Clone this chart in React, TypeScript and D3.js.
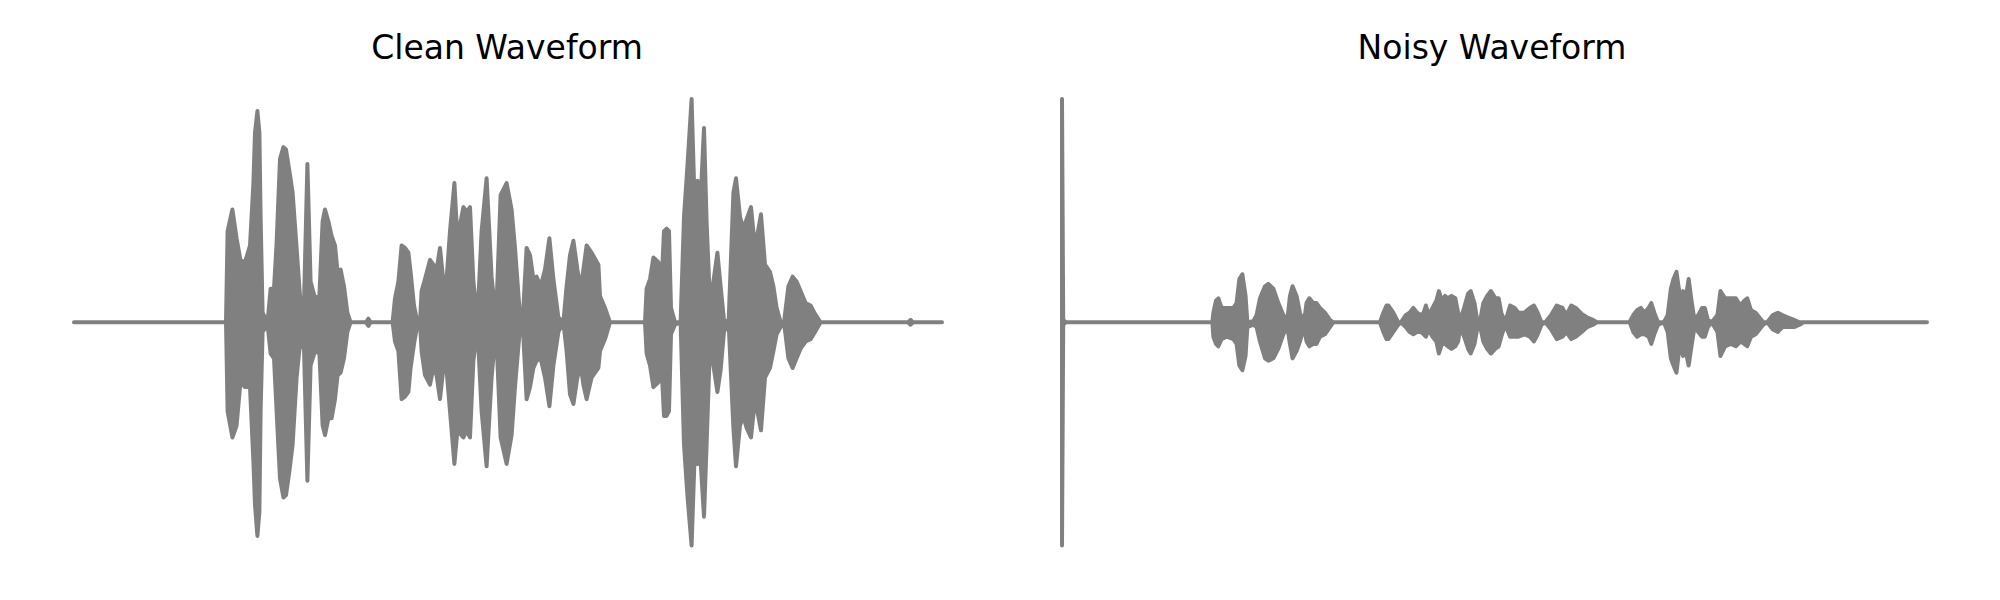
import * as d3 from "d3";

// Waveform envelopes (time in s, amplitude normalised)
const TITLES = ["Clean Waveform", "Noisy Waveform"];

const CLEAN_DURATION = 4.34;
const cleanTime = [
  0, 0.76, 0.768, 0.792, 0.813, 0.832, 0.855, 0.88, 0.897, 0.905, 0.917, 0.927, 0.933, 0.943,
  0.968, 0.983, 1.0, 1.013, 1.03, 1.047, 1.06, 1.077, 1.093, 1.113, 1.13, 1.15, 1.167, 1.183,
  1.205, 1.227, 1.243, 1.255, 1.272, 1.288, 1.305, 1.318, 1.333, 1.35, 1.367, 1.383, 1.46,
  1.472, 1.483, 1.593, 1.605, 1.622, 1.638, 1.655, 1.672, 1.683, 1.7, 1.717, 1.73, 1.738,
  1.755, 1.78, 1.797, 1.813, 1.83, 1.847, 1.863, 1.88, 1.902, 1.917, 1.947, 1.963, 1.98,
  1.997, 2.017, 2.038, 2.063, 2.088, 2.11, 2.133, 2.163, 2.188, 2.205, 2.227, 2.243, 2.263,
  2.28, 2.297, 2.313, 2.333, 2.355, 2.377, 2.397, 2.422, 2.447, 2.463, 2.48, 2.497, 2.517,
  2.533, 2.547, 2.563, 2.588, 2.622, 2.63, 2.655, 2.68, 2.855, 2.863, 2.88, 2.897, 2.922,
  2.938, 2.95, 2.963, 2.975, 2.985, 3.005, 3.033, 3.05, 3.067, 3.088, 3.105, 3.118, 3.133,
  3.15, 3.163, 3.18, 3.197, 3.217, 3.233, 3.25, 3.273, 3.297, 3.31, 3.33, 3.347, 3.363,
  3.385, 3.405, 3.435, 3.455, 3.48, 3.497, 3.513, 3.533, 3.55, 3.572, 3.593, 3.613, 3.633,
  3.658, 3.683, 3.705, 3.733, 4.17, 4.183, 4.195, 4.34,
];
const cleanUpper = [
  0, 0, 0.38, 0.47, 0.35, 0.26, 0.25, 0.32, 0.58, 0.79, 0.88, 0.79, 0.44, 0.04,
  0, 0.14, 0.14, 0.33, 0.68, 0.73, 0.72, 0.63, 0.54, 0.31, 0.11, 0.08, 0.66, 0.17,
  0.1, 0.11, 0.42, 0.47, 0.42, 0.36, 0.32, 0.21, 0.22, 0.15, 0.04, 0, 0,
  0.015, 0, 0, 0.1, 0.17, 0.32, 0.31, 0.29, 0.21, 0.07, 0, 0, 0.13,
  0.18, 0.26, 0.24, 0.22, 0.31, 0.17, 0.18, 0.38, 0.58, 0.35, 0.48, 0.46, 0.48,
  0.17, 0.01, 0.38, 0.6, 0.19, 0.01, 0.53, 0.58, 0.47, 0.31, 0.06, 0, 0.31,
  0.28, 0.18, 0.19, 0.15, 0.22, 0.35, 0.18, 0.02, 0, 0.15, 0.28, 0.34, 0.22,
  0.14, 0.22, 0.32, 0.29, 0.24, 0.11, 0.06, 0, 0, 0.14, 0.18, 0.27, 0.25,
  0.17, 0.38, 0.39, 0.38, 0.06, 0, 0, 0.44, 0.65, 0.93, 0.44, 0.59, 0.51,
  0.81, 0.42, 0.08, 0.17, 0.29, 0.15, 0.01, 0, 0.54, 0.6, 0.44, 0.39, 0.43,
  0.48, 0.31, 0.45, 0.24, 0.21, 0.15, 0.06, 0, 0, 0.15, 0.19, 0.17, 0.13,
  0.08, 0.07, 0.035, 0, 0, 0.01, 0, 0,
];
const cleanLower = [
  0, 0, -0.37, -0.48, -0.43, -0.25, -0.27, -0.27, -0.58, -0.76, -0.89, -0.79, -0.37, -0.04,
  -0.01, -0.13, -0.15, -0.37, -0.65, -0.73, -0.72, -0.62, -0.51, -0.23, -0.09, -0.11, -0.66, -0.18,
  -0.12, -0.13, -0.43, -0.47, -0.4, -0.4, -0.32, -0.22, -0.21, -0.15, -0.04, 0, 0,
  -0.015, 0, 0, -0.08, -0.12, -0.32, -0.31, -0.29, -0.19, -0.09, -0.01, 0, -0.12,
  -0.22, -0.26, -0.19, -0.22, -0.32, -0.19, -0.2, -0.37, -0.59, -0.45, -0.48, -0.45, -0.48,
  -0.16, -0.02, -0.37, -0.6, -0.23, -0.02, -0.48, -0.59, -0.47, -0.27, -0.05, 0, -0.32,
  -0.27, -0.19, -0.16, -0.15, -0.23, -0.35, -0.18, -0.04, 0, -0.12, -0.3, -0.34, -0.23,
  -0.18, -0.26, -0.32, -0.23, -0.19, -0.12, -0.07, 0, 0, -0.13, -0.18, -0.27, -0.25,
  -0.19, -0.39, -0.39, -0.37, -0.05, -0.01, 0, -0.51, -0.72, -0.93, -0.51, -0.59, -0.58,
  -0.81, -0.51, -0.09, -0.18, -0.29, -0.2, -0.04, 0, -0.44, -0.6, -0.43, -0.39, -0.44,
  -0.48, -0.32, -0.45, -0.23, -0.19, -0.12, -0.05, -0.02, 0, -0.15, -0.19, -0.15, -0.11,
  -0.08, -0.07, -0.04, 0, 0, -0.01, 0, 0,
];

const NOISY_DURATION = 4.326;
const noisyTime = [
  0, 0.006, 0.02, 0.752, 0.757, 0.77, 0.782, 0.798, 0.823, 0.857, 0.873, 0.887, 0.902, 0.918,
  0.927, 0.957, 0.973, 0.99, 1.015, 1.032, 1.057, 1.082, 1.107, 1.127, 1.14, 1.153, 1.173,
  1.19, 1.21, 1.223, 1.237, 1.257, 1.273, 1.29, 1.315, 1.34, 1.357, 1.59, 1.607, 1.623,
  1.632, 1.657, 1.682, 1.695, 1.719, 1.738, 1.757, 1.776, 1.795, 1.809, 1.82, 1.833, 1.853,
  1.872, 1.885, 1.9, 1.916, 1.929, 1.948, 1.967, 1.981, 1.992, 2.011, 2.031, 2.044, 2.063,
  2.078, 2.092, 2.107, 2.126, 2.145, 2.168, 2.184, 2.197, 2.216, 2.241, 2.264, 2.283, 2.312,
  2.34, 2.36, 2.379, 2.398, 2.417, 2.446, 2.474, 2.503, 2.522, 2.547, 2.57, 2.599, 2.627,
  2.656, 2.675, 2.838, 2.844, 2.857, 2.876, 2.895, 2.914, 2.934, 2.947, 2.962, 2.981, 3.01,
  3.029, 3.045, 3.058, 3.073, 3.09, 3.106, 3.119, 3.134, 3.15, 3.163, 3.182, 3.201, 3.215,
  3.23, 3.249, 3.278, 3.293, 3.316, 3.345, 3.37, 3.393, 3.412, 3.427, 3.446, 3.469, 3.488,
  3.507, 3.527, 3.555, 3.58, 3.603, 3.632, 3.661, 3.689, 3.708, 4.326,
];
const noisyUpper = [
  0.93, 0.01, 0, 0, 0.04, 0.09, 0.1, 0.06, 0.06, 0.06, 0.08, 0.18, 0.2, 0.11,
  0, 0.005, 0.03, 0.1, 0.15, 0.16, 0.14, 0.08, 0.03, 0.01, 0.11, 0.15, 0.11,
  0.04, 0, 0.08, 0.1, 0.08, 0.08, 0.06, 0.04, 0.01, 0, 0, 0.04, 0.07,
  0.07, 0.04, 0, 0, 0.03, 0.04, 0.06, 0.04, 0.03, 0.04, 0.07, 0.03, 0.06,
  0.09, 0.13, 0.09, 0.11, 0.1, 0.11, 0.1, 0.04, 0.01, 0.06, 0.12, 0.13, 0.08,
  0, 0.01, 0.08, 0.11, 0.13, 0.1, 0.1, 0.04, 0, 0.07, 0.06, 0.04, 0.04,
  0.06, 0.07, 0.04, 0, 0, 0.03, 0.07, 0.06, 0.03, 0.07, 0.06, 0.035, 0.02,
  0.01, 0, 0, 0.01, 0.03, 0.05, 0.06, 0.04, 0.06, 0.08, 0.04, 0, 0,
  0.03, 0.14, 0.18, 0.21, 0.11, 0.13, 0.1, 0.18, 0.08, 0.01, 0.03, 0.06, 0.06,
  0.01, 0, 0.03, 0.13, 0.1, 0.1, 0.1, 0.07, 0.09, 0.1, 0.05, 0.04, 0.02,
  0, 0, 0.03, 0.04, 0.03, 0.02, 0.01, 0, 0, 0,
];
const noisyLower = [
  -0.93, -0.01, 0, 0, -0.06, -0.09, -0.1, -0.07, -0.06, -0.07, -0.09, -0.18, -0.2, -0.14,
  -0.02, -0.01, -0.02, -0.08, -0.15, -0.16, -0.15, -0.11, -0.05, -0.02, -0.09, -0.15, -0.12,
  -0.08, -0.02, -0.08, -0.1, -0.09, -0.09, -0.06, -0.05, -0.02, 0, 0, -0.04, -0.07,
  -0.07, -0.04, -0.01, 0, -0.02, -0.04, -0.05, -0.04, -0.04, -0.05, -0.06, -0.03, -0.06,
  -0.08, -0.13, -0.09, -0.09, -0.1, -0.11, -0.1, -0.08, -0.02, -0.06, -0.11, -0.13, -0.09,
  -0.02, -0.02, -0.08, -0.11, -0.13, -0.11, -0.1, -0.06, -0.01, -0.06, -0.06, -0.06, -0.05,
  -0.06, -0.08, -0.05, -0.01, 0, -0.03, -0.07, -0.06, -0.04, -0.07, -0.06, -0.04, -0.02,
  -0.01, 0, 0, -0.01, -0.04, -0.06, -0.05, -0.05, -0.06, -0.09, -0.05, -0.01, 0,
  -0.04, -0.15, -0.18, -0.21, -0.09, -0.14, -0.12, -0.18, -0.09, -0.02, -0.04, -0.06, -0.06,
  -0.02, 0, -0.04, -0.14, -0.1, -0.09, -0.1, -0.08, -0.09, -0.1, -0.06, -0.05, -0.03,
  -0.01, 0, -0.03, -0.04, -0.02, -0.02, -0.02, -0.01, 0, 0,
];

const GRAY = "#808080";
const BASE_Y = 322.3;
const AMP_PX = 240;

type WaveProps = {
  time: number[];
  upper: number[];
  lower: number[];
  duration: number;
  x0: number;
  x1: number;
};

function Waveform({ time, upper, lower, duration, x0, x1 }: WaveProps) {
  const x = d3.scaleLinear().domain([0, duration]).range([x0, x1]);
  const y = d3
    .scaleLinear()
    .domain([-1, 1])
    .range([BASE_Y + AMP_PX, BASE_Y - AMP_PX]);

  const area = d3
    .area<number>()
    .x((i) => x(time[i]))
    .y0((i) => y(lower[i]))
    .y1((i) => y(upper[i]));

  return (
    <path
      d={area(d3.range(time.length)) ?? ""}
      fill={GRAY}
      stroke={GRAY}
      strokeWidth={4}
      strokeLinejoin="round"
      strokeLinecap="round"
    />
  );
}

export default function App() {
  return (
    <svg
      width={2000}
      height={600}
      style={{ position: "absolute", left: 0, top: 0, background: "#fff" }}
    >
      <text
        x={507}
        y={58.5}
        textAnchor="middle"
        fontFamily="DejaVu Sans"
        fontSize={33}
        fill="#000"
      >
        {TITLES[0]}
      </text>
      <text
        x={1492}
        y={58.5}
        textAnchor="middle"
        fontFamily="DejaVu Sans"
        fontSize={33}
        fill="#000"
      >
        {TITLES[1]}
      </text>

      <Waveform
        time={cleanTime}
        upper={cleanUpper}
        lower={cleanLower}
        duration={CLEAN_DURATION}
        x0={74}
        x1={942}
      />
      <Waveform
        time={noisyTime}
        upper={noisyUpper}
        lower={noisyLower}
        duration={NOISY_DURATION}
        x0={1062}
        x1={1927}
      />
    </svg>
  );
}
